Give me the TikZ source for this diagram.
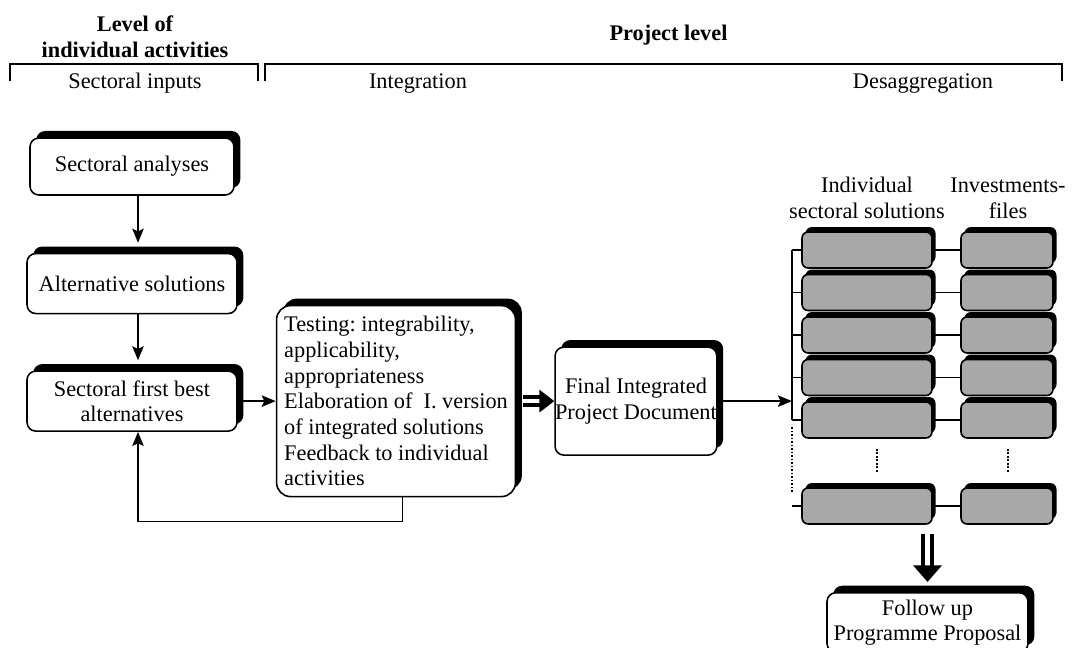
\documentclass[tikz,border=0pt]{standalone}
\usepackage{fontspec}
\setmainfont{Liberation Serif}
\usepackage{tikz}
\usetikzlibrary{arrows.meta,shadows}
\usetikzlibrary{positioning}
\frenchspacing
\definecolor{cellgray}{RGB}{168,168,168}
\tikzset{
    sbox/.style={
           rectangle,
           rounded corners=5pt,
           draw=black, line width=0.9pt,
           fill=white,
           general shadow={fill=black, shadow xshift=3.6pt, shadow yshift=4pt},
           minimum width=4.2cm,
           minimum height=1.2cm,
           inner sep=2pt,
           align=center,
           },
    cell/.style={
           rectangle,
           rounded corners=3.5pt,
           draw=black, line width=0.9pt,
           fill=cellgray,
           general shadow={fill=black, shadow xshift=2pt, shadow yshift=2.8pt},
           minimum height=0.72cm,
           },
    title/.style={font=\fontsize{12.7}{14.6}\selectfont\bfseries, align=center},
    bracket/.style={line width=1.4pt},
    flow/.style={->, line width=1pt},
    link/.style={line width=0.8pt},
    dots/.style={line width=1pt, densely dotted},
    dbl/.style={double, line width=2pt, double distance=2.4pt,
           -{Triangle[length=8.5pt,width=12.5pt]}},
    bigdbl/.style={double, line width=2.2pt, double distance=3.2pt,
           -{Triangle[length=9.5pt,width=16pt]}},
}

\begin{document}
\begin{tikzpicture}[x=0.02cm, y=-0.02cm,
  >={Stealth[length=8pt,width=6.5pt,inset=1.5pt]},
  font=\fontsize{12.7}{14.6}\selectfont]
 \useasboundingbox (0,0) rectangle (1072,648);
 \clip (0,0) rectangle (1072,648);

 % headings and brackets
 \node[title] (lvl) at (135,37) {Level of\\individual activities};
 \node[title, anchor=base] (prj) at (668.5,41) {Project level};
 \draw[bracket] (10,81) |- (258,64) -- (258,81);
 \draw[bracket] (265,81) |- (1062,64) -- (1062,81);
 \node[anchor=base] (inputs) at (135,89) {Sectoral inputs};
 \node[anchor=base] (integ) at (418,89) {Integration};
 \node[anchor=base] (desag) at (923,89) {Desaggregation};

 % sectoral inputs
 \node[sbox, minimum width=4.08cm, minimum height=1.14cm] (sa) at (132,166.5)
 {Sectoral analyses};
 \node[sbox, below=1.14cm of sa] (alt) {Alternative solutions};
 \node[sbox, below=1.12cm of alt] (fb) {Sectoral first best\\alternatives};
 \coordinate (spine) at (138,0);

 % integration
 \node[sbox, right=0.76cm of fb, rounded corners=8pt,
 minimum width=4.78cm, minimum height=3.82cm, align=left] (test)
 {%
 Testing: integrability,\\
 applicability,\\
 appropriateness\\
 Elaboration of~ I. version\\
 of integrated solutions\\
 Feedback to individual\\
 activities
 };
 \node[sbox, right=0.76cm of test, inner xsep=0pt,
 minimum width=3.22cm, minimum height=2.16cm] (fid)
 {Final Integrated\\Project Document};

 % desaggregation
 \coordinate (bus) at (792,250);
 \node[align=center] (hsol) at (867,198) {Individual\\sectoral solutions};
 \node[align=center] (hinv) at (1008,198) {Investments-\\files};
 \foreach \i/\y in {1/250,2/292.5,3/335,4/377.5,5/420,6/506}{
   \node[cell, minimum width=2.6cm] (sol\i) at (867,\y) {};
   \node[cell, minimum width=1.84cm] (inv\i) at (1007,\y) {};
   \draw[link] (sol\i.west -| bus) -- (sol\i.west);
   \draw[link] (sol\i.east) -- (inv\i.west);
 }
 \draw[link] (sol1.west -| bus) -- (sol5.west -| bus);
 \draw[dots] (sol5.west -| bus) ++(0,7) -- ++(0,65);
 \draw[dots] (sol5.south) ++(10,10) -- ++(0,24);
 \draw[dots] (inv5.south) ++(1,10) -- ++(0,24);
 \node[sbox, minimum width=4.02cm, minimum height=1.19cm] (fup) at (927.5,622.5)
 {Follow up\\Programme Proposal};

 % connectors
 \draw[flow, shorten >=0.2cm] (sa.south -| spine) -- (alt.north -| spine);
 \draw[flow, shorten >=0.2cm] (alt.south -| spine) -- (fb.north -| spine);
 \draw[flow] (fb.east) -- (fb.east -| test.west);
 \draw[flow] ([xshift=0.13cm]test.south) -- ++(0,24) -| (fb.south -| spine);
 \draw[dbl, shorten <=0.14cm] (test.east |- fid.west) -- (fid.west);
 \draw[flow] (fid.east) -- (fid.east -| bus);
 \draw[bigdbl, shorten <=0.18cm, shorten >=0.2cm] (sol6.south -| fup) -- (fup.north);
\end{tikzpicture}
\end{document}
